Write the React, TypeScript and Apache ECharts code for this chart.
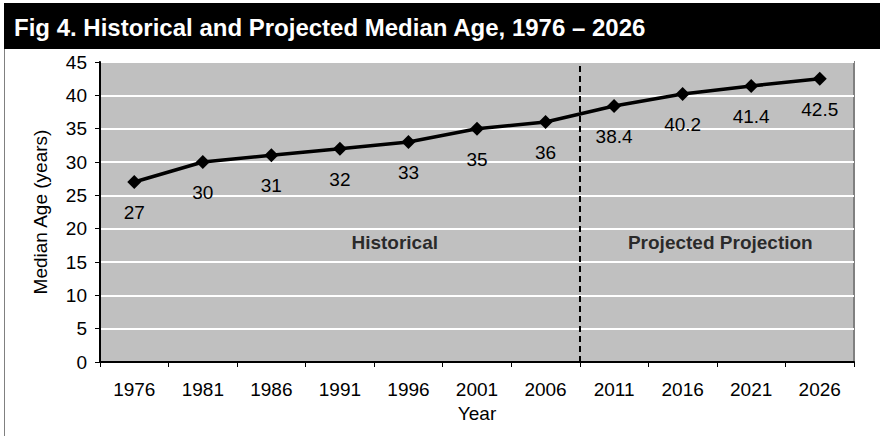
import React, { useEffect, useRef } from "react";
import * as echarts from "echarts";

const categories = ["1976", "1981", "1986", "1991", "1996", "2001", "2006", "2011", "2016", "2021", "2026"];
const medianAge = [27, 30, 31, 32, 33, 35, 36, 38.4, 40.2, 41.4, 42.5];
const yTicks = { min: 0, max: 45, interval: 5 };
const titleText = "Fig 4. Historical and Projected Median Age, 1976 – 2026";
const regionLabels = [
  { text: "Historical", x: 4.3, y: 17.9 },
  { text: "Projected Projection", x: 9.05, y: 17.9 },
];
const dividerAt = 7;

const FONT = "'Liberation Sans', Arial, sans-serif";

export default function App() {
  const ref = useRef<HTMLDivElement>(null);
  useEffect(() => {
    const chart = echarts.init(ref.current!, null, { renderer: "svg" });
    chart.setOption({
      animation: false,
      textStyle: { fontFamily: FONT },
      grid: {
        left: 100,
        right: 26,
        top: 62,
        bottom: 74,
        show: true,
        backgroundColor: "#C0C0C0",
        borderColor: "#808080",
        borderWidth: 2,
        outerBoundsMode: "none",
        containLabel: false,
      },
      graphic: [
        { type: "rect", shape: { x: 4, y: 3, width: 876, height: 46 }, style: { fill: "#000" }, silent: true },
        {
          type: "text",
          x: 14,
          y: 27,
          style: {
            text: titleText,
            fill: "#fff",
            font: `bold 24px ${FONT}`,
            textVerticalAlign: "middle",
          },
        },
        { type: "line", shape: { x1: 4.5, y1: 49, x2: 4.5, y2: 436 }, style: { stroke: "#808080", lineWidth: 1 } },
      ],
      xAxis: [
        {
          type: "category",
          data: categories,
          boundaryGap: true,
          name: "Year",
          nameLocation: "middle",
          nameGap: 36,
          nameTextStyle: { color: "#000", fontSize: 19, fontFamily: FONT },
          axisLine: { lineStyle: { color: "#000", width: 2 } },
          axisTick: { show: true, length: 5, lineStyle: { color: "#000" }, alignWithLabel: false },
          axisLabel: { color: "#000", fontSize: 19, margin: 18, fontFamily: FONT },
          splitLine: { show: false },
        },
        {
          type: "value",
          min: 0,
          max: 11,
          show: false,
          position: "bottom",
        },
      ],
      yAxis: {
        type: "value",
        min: yTicks.min,
        max: yTicks.max,
        interval: yTicks.interval,
        name: "Median Age (years)",
        nameLocation: "middle",
        nameGap: 50,
        nameRotate: 90,
        nameTextStyle: { color: "#000", fontSize: 19, fontFamily: FONT },
        axisLine: { show: true, lineStyle: { color: "#000", width: 2 } },
        axisTick: { show: true, length: 5, lineStyle: { color: "#000" } },
        axisLabel: { color: "#000", fontSize: 19, margin: 13, fontFamily: FONT },
        splitLine: { show: true, lineStyle: { color: "#fff", width: 2 } },
      },
      series: [
        {
          type: "line",
          data: medianAge,
          xAxisIndex: 0,
          lineStyle: { color: "#000", width: 3.5 },
          itemStyle: { color: "#000" },
          symbol: "diamond",
          symbolSize: 14,
          z: 5,
          label: {
            show: true,
            position: "bottom",
            distance: 14,
            color: "#000",
            fontSize: 19,
            fontFamily: FONT,
          },
        },
        {
          type: "scatter",
          xAxisIndex: 1,
          data: regionLabels.map((r) => ({ value: [r.x, r.y], name: r.text })),
          symbolSize: 0,
          silent: true,
          label: {
            show: true,
            position: "inside",
            formatter: (p: any) => p.name,
            color: "#000",
            fontSize: 19,
            fontWeight: "bold",
            fontFamily: FONT,
          },
          markLine: {
            silent: true,
            symbol: "none",
            label: { show: false },
            lineStyle: { color: "#000", type: [6, 4], width: 2 },
            data: [{ xAxis: dividerAt }],
          },
        },
      ],
    });
    return () => chart.dispose();
  }, []);
  return (
    <div
      ref={ref}
      style={{ position: "fixed", left: 0, top: 0, width: 880, height: 436, background: "#fff" }}
    />
  );
}
